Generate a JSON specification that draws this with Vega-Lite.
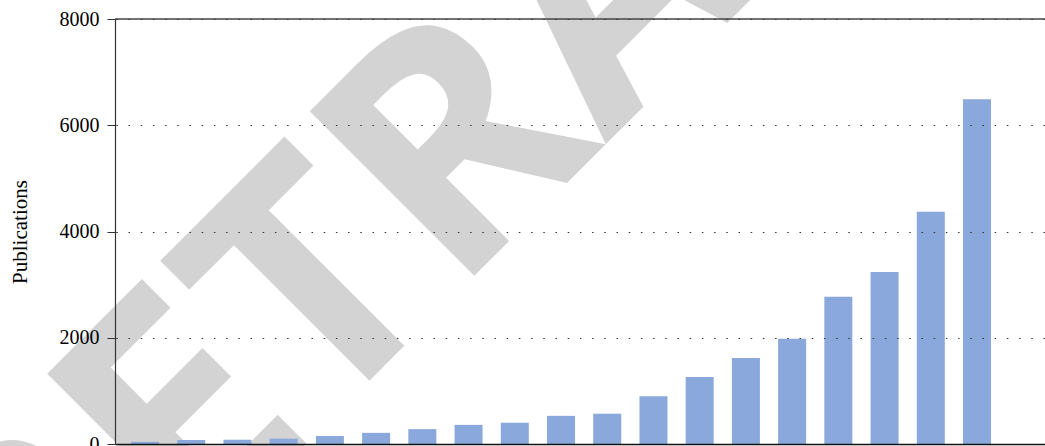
{
  "$schema": "https://vega.github.io/schema/vega-lite/v6.json",
  "width": 930,
  "height": 425,
  "autosize": {"type": "none"},
  "padding": {"left": 115, "top": 19, "right": 0, "bottom": 2},
  "background": "white",
  "config": {"view": {"stroke": null}, "font": "Liberation Serif"},
  "datasets": {
    "pubs": [
      {"year": "2000", "publications": 40},
      {"year": "2001", "publications": 75},
      {"year": "2002", "publications": 80},
      {"year": "2003", "publications": 100},
      {"year": "2004", "publications": 150},
      {"year": "2005", "publications": 210},
      {"year": "2006", "publications": 280},
      {"year": "2007", "publications": 360},
      {"year": "2008", "publications": 400},
      {"year": "2009", "publications": 530},
      {"year": "2010", "publications": 570},
      {"year": "2011", "publications": 900},
      {"year": "2012", "publications": 1260},
      {"year": "2013", "publications": 1620},
      {"year": "2014", "publications": 1980},
      {"year": "2015", "publications": 2770},
      {"year": "2016", "publications": 3240},
      {"year": "2017", "publications": 4370},
      {"year": "2018", "publications": 6490}
    ],
    "mark": [{"label": "RETRACTED", "year": "2012", "value": 7408}]
  },
  "layer": [
    {
      "data": {"name": "mark"},
      "mark": {"type": "text", "font": "Open Sans", "fontWeight": "bold", "fontSize": 326, "angle": -45, "align": "center", "baseline": "alphabetic", "color": "#d3d3d3", "dx": -11},
      "encoding": {
        "x": {"field": "year", "type": "nominal"},
        "y": {"field": "value", "type": "quantitative"},
        "text": {"field": "label"}
      }
    },
    {
      "data": {"name": "pubs"},
      "mark": {"type": "bar", "color": "#8aa8db"},
      "encoding": {
        "x": {
          "field": "year", "type": "nominal",
          "scale": {"domain": ["2000","2001","2002","2003","2004","2005","2006","2007","2008","2009","2010","2011","2012","2013","2014","2015","2016","2017","2018"], "paddingInner": 0.394, "paddingOuter": 0.757, "align": 0.2286},
          "axis": {"title": null, "ticks": false, "labels": false, "domainColor": "#111", "domainWidth": 1.5, "zindex": 1}
        },
        "y": {
          "field": "publications", "type": "quantitative",
          "scale": {"domain": [0, 8000], "nice": false},
          "axis": {
            "title": "Publications", "values": [0, 2000, 4000, 6000, 8000], "format": "d",
            "titleFont": "Liberation Serif", "titleFontSize": 21, "titleFontWeight": "normal", "titleColor": "black", "titlePadding": 29,
            "labelFont": "Liberation Serif", "labelFontSize": 20, "labelColor": "black", "labelPadding": 8,
            "tickSize": 8, "tickColor": "#333", "domainColor": "#333", "domainWidth": 1.2,
            "grid": true, "gridColor": "#333", "gridDash": [1.5, 10.7], "gridDashOffset": 11.4, "gridWidth": 1.2,
            "zindex": 1
          }
        }
      }
    },
    {
      "data": {"values": [{"level": 8000}]},
      "mark": {"type": "rule", "color": "#444", "strokeWidth": 1.5},
      "encoding": {"y": {"field": "level", "type": "quantitative"}}
    }
  ]
}
